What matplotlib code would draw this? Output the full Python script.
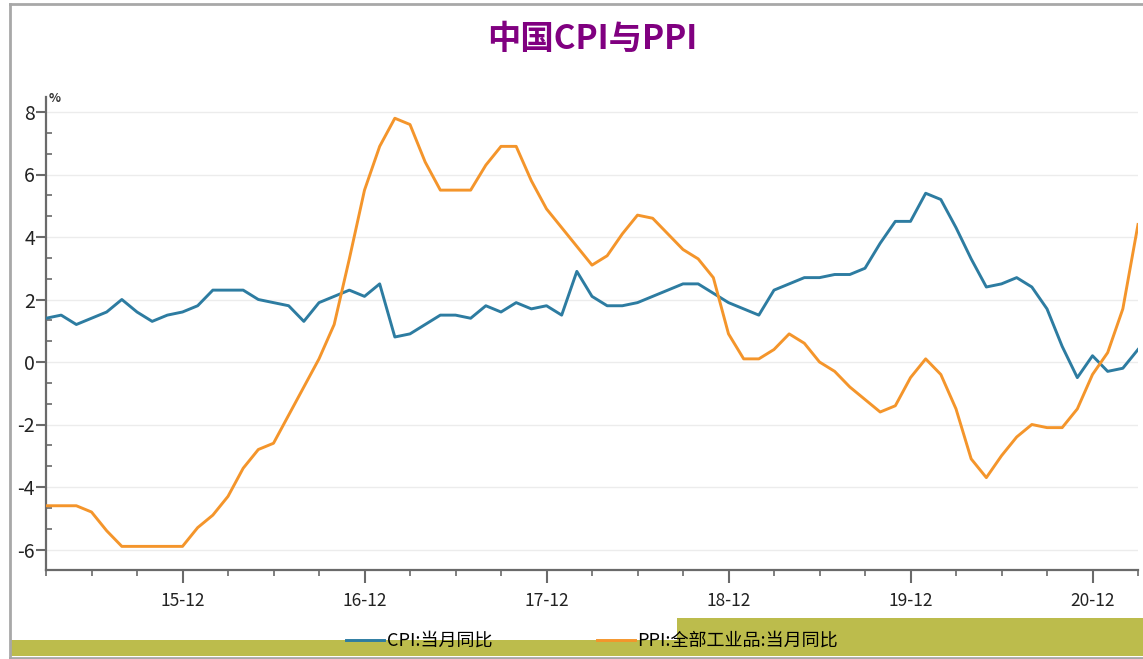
import numpy as np
import pandas as pd
import matplotlib
matplotlib.use("Agg")
import matplotlib.pyplot as plt
from matplotlib.patches import Rectangle
from matplotlib.lines import Line2D
from matplotlib.ticker import MultipleLocator, AutoMinorLocator, FixedLocator

plt.rcParams['font.family'] = ['Noto Sans CJK SC', 'DejaVu Sans']
plt.rcParams['axes.unicode_minus'] = False

# ---------------------------------------------------------
# Data (monthly, 2015-03 .. 2021-03)
# ---------------------------------------------------------
months = pd.period_range("2015-03", "2021-03", freq="M")

cpi = [1.4, 1.5, 1.2, 1.4, 1.6, 2.0, 1.6, 1.3, 1.5, 1.6,
       1.8, 2.3, 2.3, 2.3, 2.0, 1.9, 1.8, 1.3, 1.9, 2.1, 2.3, 2.1,
       2.5, 0.8, 0.9, 1.2, 1.5, 1.5, 1.4, 1.8, 1.6, 1.9, 1.7, 1.8,
       1.5, 2.9, 2.1, 1.8, 1.8, 1.9, 2.1, 2.3, 2.5, 2.5, 2.2, 1.9,
       1.7, 1.5, 2.3, 2.5, 2.7, 2.7, 2.8, 2.8, 3.0, 3.8, 4.5, 4.5,
       5.4, 5.2, 4.3, 3.3, 2.4, 2.5, 2.7, 2.4, 1.7, 0.5, -0.5, 0.2,
       -0.3, -0.2, 0.4]

ppi = [-4.6, -4.6, -4.6, -4.8, -5.4, -5.9, -5.9, -5.9, -5.9, -5.9,
       -5.3, -4.9, -4.3, -3.4, -2.8, -2.6, -1.7, -0.8, 0.1, 1.2, 3.3, 5.5,
       6.9, 7.8, 7.6, 6.4, 5.5, 5.5, 5.5, 6.3, 6.9, 6.9, 5.8, 4.9,
       4.3, 3.7, 3.1, 3.4, 4.1, 4.7, 4.6, 4.1, 3.6, 3.3, 2.7, 0.9,
       0.1, 0.1, 0.4, 0.9, 0.6, 0.0, -0.3, -0.8, -1.2, -1.6, -1.4, -0.5,
       0.1, -0.4, -1.5, -3.1, -3.7, -3.0, -2.4, -2.0, -2.1, -2.1, -1.5, -0.4,
       0.3, 1.7, 4.4]

labels = ["CPI:当月同比", "PPI:全部工业品:当月同比"]
title = "中国CPI与PPI"

CPI_COLOR = "#2d7ca1"
PPI_COLOR = "#f4952b"
AXIS_GREY = "#6a6a6a"

# ---------------------------------------------------------
# Figure
# ---------------------------------------------------------
W, H = 1143, 659
fig = plt.figure(figsize=(W / 100, H / 100), dpi=100)
fig.patch.set_facecolor("white")

ax = fig.add_axes([46 / W, 1 - 570 / H, (1138 - 46) / W, (570 - 97) / H])

x = np.arange(len(months))
ax.plot(x, cpi, color=CPI_COLOR, lw=2.1, label=labels[0], zorder=3)
ax.plot(x, ppi, color=PPI_COLOR, lw=2.1, label=labels[1], zorder=3)

ax.set_xlim(0, len(months) - 1)
ax.set_ylim(-6.656, 8.48)

# x ticks: year marks at December, minor every quarter
dec_idx = [i for i, m in enumerate(months) if m.month == 12]
ax.xaxis.set_major_locator(FixedLocator(dec_idx))
ax.set_xticklabels([months[i].strftime("%y-%m") for i in dec_idx])
ax.xaxis.set_minor_locator(FixedLocator([i for i in range(0, len(months), 3) if i not in dec_idx]))

ax.yaxis.set_major_locator(MultipleLocator(2))
ax.yaxis.set_minor_locator(AutoMinorLocator(3))

ax.yaxis.grid(True, color="#ececec", lw=1.0)
ax.set_axisbelow(True)

for s in ("top", "right"):
    ax.spines[s].set_visible(False)
for s in ("left", "bottom"):
    ax.spines[s].set_color(AXIS_GREY)
    ax.spines[s].set_linewidth(1.6)

ax.tick_params(axis="y", which="major", direction="out", length=7, width=1.5,
               color=AXIS_GREY, labelsize=14, pad=1, labelcolor="#222222")
ax.tick_params(axis="y", which="minor", direction="in", length=4, width=1.2, color=AXIS_GREY)
ax.tick_params(axis="x", which="major", direction="out", length=9.5, width=1.5,
               color=AXIS_GREY, labelsize=12.5, pad=6, labelcolor="#222222")
ax.tick_params(axis="x", which="minor", direction="out", length=4.5, width=1.2, color=AXIS_GREY)

fig.text(49 / W, 1 - 99 / H, "%", fontsize=9, fontweight="bold", color="#333333",
         ha="left", va="center")

fig.text(592 / W, 1 - 39 / H, title, fontsize=24, fontweight="bold", color="#800080",
         ha="center", va="center")

# ---------------------------------------------------------
# Frame and bottom band
# ---------------------------------------------------------
fig.add_artist(Line2D([10 / W, 10 / W], [1 - 658 / H, 1 - 4 / H], color="#a8a8a8", lw=2))
fig.add_artist(Line2D([10 / W, 1.0], [1 - 4 / H, 1 - 4 / H], color="#a8a8a8", lw=2))
fig.add_artist(Line2D([10 / W, 1.0], [1 - 657.5 / H, 1 - 657.5 / H], color="#a8a8a8", lw=2))
fig.patches.append(Rectangle((11 / W, 1 - 656 / H), (677 - 11) / W, (656 - 640) / H,
                             transform=fig.transFigure, facecolor="#bcbc4c", edgecolor="none", zorder=0))
fig.patches.append(Rectangle((677 / W, 1 - 656 / H), (W - 677) / W, (656 - 618) / H,
                             transform=fig.transFigure, facecolor="#bcbc4c", edgecolor="none", zorder=0))

handles, lbls = ax.get_legend_handles_labels()
fig.legend(handles, lbls, loc="center", bbox_to_anchor=(0.518, 1 - 641 / H), ncol=2,
           frameon=False, fontsize=13, handlelength=2.1, handletextpad=0.15,
           columnspacing=5.8, borderaxespad=0, borderpad=0)

fig.savefig("out.png", dpi=100)
